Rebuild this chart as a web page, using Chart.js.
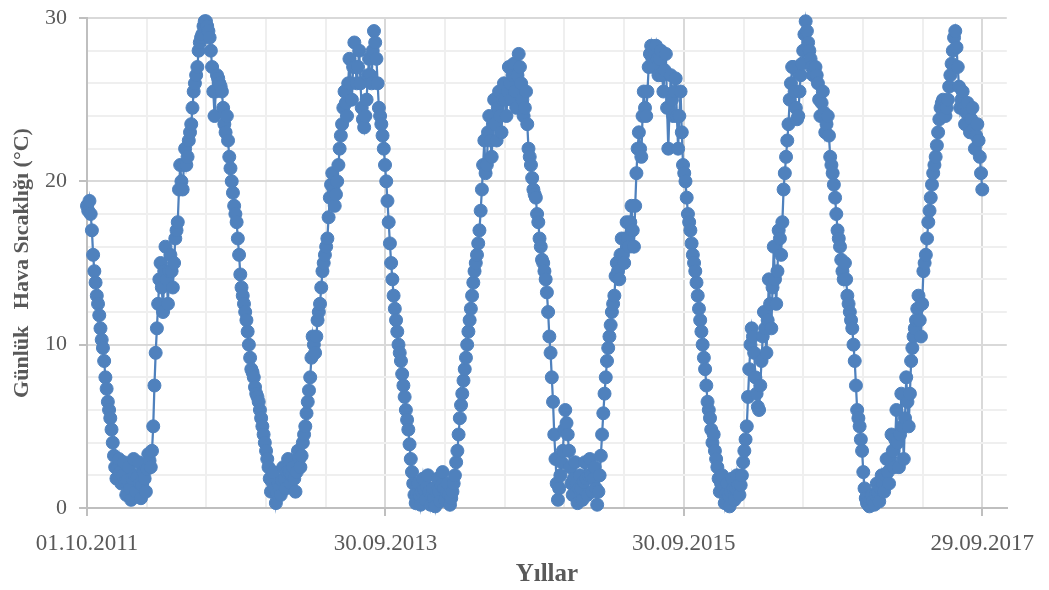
<!DOCTYPE html>
<html lang="tr">
<head>
<meta charset="utf-8">
<title>Günlük Hava Sıcaklığı</title>
<script src="https://cdn.jsdelivr.net/npm/chart.js@4.4.1/dist/chart.umd.min.js"></script>
<style>
  body { margin: 0; background: #ffffff; }
  #wrap { width: 1049px; height: 590px; position: relative; }
</style>
</head>
<body>
<div id="wrap"><canvas id="chart"></canvas></div>
<script>
"use strict"

//Readings start on 01.10.2011, one every 3rd day
const stepDays = 3;

//X axis labels and the day they belong to
const xTickLabels = ["01.10.2011", "30.09.2013", "30.09.2015", "29.09.2017"];
const xTickDays = [0, 730, 1460, 2190];

//Daily air temperature (°C), one array per season Oct - Sep
const temps2011 = [18.5, 18.2, 18.8, 18.0, 17.0, 15.5, 14.5, 13.8, 13.0, 12.5,
  11.8, 11.0, 10.3, 9.8, 9.0, 8.0, 7.3, 6.5, 6.0, 5.5,
  4.8, 4.0, 3.2, 2.5, 1.8, 2.4, 3.0, 2.2, 1.5, 2.0,
  2.8, 1.6, 0.8, 1.7, 2.5, 1.2, 0.5, 1.8, 3.0, 2.0,
  1.0, 1.9, 2.8, 1.5, 0.6, 1.4, 2.2, 1.8, 1.0, 2.4,
  3.3, 2.9, 2.5, 3.5, 5.0, 7.5, 9.5, 11.0, 12.5, 14.0,
  15.0, 13.5, 12.0, 14.5, 16.0, 14.0, 12.5, 14.5, 15.5, 14.5,
  13.5, 15.0, 16.5, 17.0, 17.5, 19.5, 21.0, 20.0, 19.5, 21.0,
  22.0, 21.0, 21.5, 22.5, 23.0, 23.5, 24.5, 25.5, 26.0, 26.5,
  27.0, 28.0, 28.5, 28.8, 29.0, 29.5, 29.8, 29.8, 29.5, 29.2,
  28.8, 28.0, 27.0, 25.5, 24.0, 25.5, 26.5, 26.3, 26.0, 25.8,
  25.5, 24.5, 23.5, 23.0, 24.0, 22.5, 21.5, 20.8, 20.0, 19.3,
  18.5, 18.0];
const temps2012 = [17.5, 16.5, 15.5, 14.3, 13.5, 13.0, 12.5, 12.0, 11.5, 10.8,
  10.0, 9.2, 8.5, 8.3, 8.0, 7.4, 7.0, 6.8, 6.5, 6.0,
  5.5, 5.0, 4.5, 4.0, 3.5, 3.0, 2.5, 1.8, 1.0, 1.6,
  2.2, 1.2, 0.3, 0.9, 1.5, 1.2, 0.8, 1.7, 2.5, 1.8,
  1.2, 2.2, 3.0, 2.2, 1.5, 2.0, 2.5, 1.8, 1.0, 2.2,
  3.5, 3.0, 2.5, 3.2, 4.0, 4.5, 5.0, 5.8, 6.5, 7.2,
  8.0, 9.2, 10.5, 10.0, 9.5, 10.5, 11.5, 12.0, 12.5, 13.5,
  14.5, 15.0, 15.5, 16.0, 16.5, 17.8, 19.0, 19.8, 20.5, 19.5,
  18.5, 19.2, 20.0, 21.0, 22.0, 22.8, 23.5, 24.5, 25.5, 24.8,
  24.0, 26.0, 27.5, 26.0, 25.0, 27.0, 28.5, 27.0, 26.0, 27.0,
  28.0, 26.0, 24.5, 23.8, 23.3, 24.0, 25.0, 26.5, 27.5, 26.5,
  26.0, 28.0, 29.2, 28.5, 27.5, 26.0, 24.5, 24.0, 23.5, 22.8,
  22.0, 21.0];
const temps2013 = [20.0, 18.8, 17.5, 16.2, 15.0, 14.0, 13.0, 12.2, 11.5, 10.8,
  10.0, 9.5, 9.0, 8.2, 7.5, 6.8, 6.0, 5.4, 4.8, 3.9,
  3.0, 2.2, 1.5, 0.8, 0.3, 0.9, 1.5, 0.8, 0.2, 1.0,
  1.8, 1.1, 0.5, 1.3, 2.0, 1.0, 0.2, 0.7, 1.2, 0.6,
  0.1, 1.0, 1.8, 1.0, 0.4, 1.4, 2.2, 1.2, 0.5, 1.0,
  1.5, 0.8, 0.2, 0.6, 1.0, 1.5, 2.0, 2.8, 3.5, 4.5,
  5.5, 6.3, 7.0, 7.8, 8.5, 9.2, 10.0, 10.8, 11.5, 12.2,
  13.0, 13.8, 14.5, 15.0, 15.5, 16.2, 17.0, 18.2, 19.5, 21.0,
  22.5, 20.5, 21.0, 23.0, 24.0, 22.5, 21.5, 23.5, 25.0, 23.5,
  22.5, 24.5, 25.5, 24.0, 23.0, 25.0, 26.0, 25.0, 24.0, 25.5,
  27.0, 26.0, 25.0, 26.5, 27.2, 25.5, 24.5, 26.5, 27.8, 27.0,
  26.0, 25.0, 24.0, 24.5, 25.5, 23.5, 22.0, 21.5, 21.0, 20.2,
  19.5, 19.2];
const temps2014 = [19.0, 18.0, 17.5, 16.5, 16.0, 15.2, 15.0, 14.5, 14.0, 13.2,
  12.0, 10.5, 9.5, 8.0, 6.5, 4.5, 3.0, 1.5, 0.5, 1.2,
  2.0, 2.8, 3.5, 4.8, 6.0, 5.2, 4.5, 3.5, 2.5, 1.5,
  0.8, 1.8, 2.8, 1.5, 0.3, 1.2, 2.0, 1.2, 0.5, 1.6,
  2.8, 1.8, 0.8, 2.0, 3.0, 2.0, 1.0, 1.8, 2.5, 1.2,
  0.2, 1.0, 2.0, 3.2, 4.5, 5.8, 7.0, 8.0, 9.0, 9.8,
  10.5, 11.2, 12.0, 12.5, 13.0, 14.2, 15.0, 14.5, 14.0, 15.5,
  16.5, 15.5, 15.0, 16.5, 17.5, 16.5, 16.0, 17.5, 18.5, 17.0,
  16.0, 18.5, 20.5, 22.0, 23.0, 22.0, 21.5, 24.0, 25.5, 24.5,
  24.0, 25.5, 27.0, 27.8, 28.3, 27.5, 27.0, 27.8, 28.3, 27.5,
  26.5, 27.5, 28.0, 26.5, 25.5, 26.8, 27.8, 24.5, 22.0, 24.5,
  26.5, 25.0, 24.0, 25.5, 26.3, 24.0, 22.0, 24.0, 25.5, 23.0,
  21.0, 20.5];
const temps2015 = [20.0, 19.0, 18.0, 17.5, 17.0, 16.2, 15.5, 15.0, 14.5, 13.8,
  13.0, 12.2, 11.5, 10.8, 10.0, 9.2, 8.5, 7.5, 6.5, 6.0,
  5.5, 4.8, 4.0, 4.5, 3.5, 3.0, 2.5, 1.8, 1.0, 1.5,
  2.0, 1.2, 0.3, 0.9, 1.5, 0.8, 0.1, 1.0, 1.8, 1.2,
  0.5, 1.2, 2.0, 1.4, 0.8, 1.4, 2.0, 2.8, 3.5, 4.2,
  5.0, 6.8, 8.5, 10.0, 11.0, 10.5, 9.5, 8.0, 7.0, 6.2,
  6.0, 7.5, 9.0, 10.5, 12.0, 11.0, 9.5, 11.5, 14.0, 12.5,
  11.0, 13.5, 16.0, 14.0, 12.5, 14.5, 17.0, 16.5, 15.5, 17.5,
  19.5, 20.5, 21.5, 22.5, 23.5, 25.0, 26.0, 27.0, 27.0, 25.5,
  24.5, 23.8, 24.0, 25.5, 26.5, 27.2, 28.0, 29.0, 29.8, 29.2,
  28.5, 28.0, 27.5, 27.0, 26.5, 26.8, 27.0, 26.5, 26.0, 25.0,
  24.0, 24.8, 25.5, 24.2, 23.0, 23.5, 24.0, 22.8, 21.5, 21.0,
  20.5, 19.8];
const temps2016 = [19.0, 18.0, 17.0, 16.5, 16.0, 15.2, 14.5, 14.0, 15.0, 14.0,
  13.0, 12.5, 12.0, 11.5, 11.0, 10.0, 9.0, 7.5, 6.0, 5.5,
  5.0, 4.2, 3.5, 2.2, 1.2, 0.6, 0.3, 0.2, 0.1, 0.5,
  0.8, 0.4, 0.2, 0.8, 1.5, 0.9, 0.4, 1.2, 2.0, 1.5,
  1.0, 2.0, 3.0, 2.2, 1.5, 3.0, 4.5, 3.5, 2.5, 4.2,
  6.0, 4.0, 2.5, 4.5, 7.0, 5.0, 3.0, 5.5, 8.0, 6.5,
  5.0, 7.0, 9.0, 9.8, 10.5, 11.0, 11.5, 12.2, 13.0, 11.5,
  10.5, 12.5, 14.5, 15.0, 15.5, 16.5, 17.5, 18.2, 19.0, 19.8,
  20.5, 21.0, 21.5, 22.2, 23.0, 23.8, 24.5, 24.8, 25.0, 24.5,
  24.0, 24.5, 25.0, 25.8, 26.5, 27.2, 28.0, 28.8, 29.2, 28.2,
  27.0, 25.8, 24.5, 25.0, 25.5, 24.5, 23.5, 24.2, 24.8, 24.0,
  23.0, 23.8, 24.5, 23.2, 22.0, 22.8, 23.5, 22.5, 21.5, 20.5,
  19.5];

const seasons = [temps2011, temps2012, temps2013, temps2014, temps2015, temps2016];

//Put the readings on a day axis
let points = [];
let day = 0;
for (let i = 0; i < seasons.length; i++) {
  for (let j = 0; j < seasons[i].length; j++) {
    points.push({x: day, y: seasons[i][j]});
    day += stepDays;
  }
}

const labelColor = "#595959";
const serif = "'Liberation Serif', 'Times New Roman', serif";

const data = {
  datasets: [
    {
      label: "Günlük Hava Sıcaklığı",
      data: points,
      borderColor: "#4f81bd",
      backgroundColor: "#4f81bd",
      borderWidth: 2.25,
      pointRadius: 6.5,
      pointBorderWidth: 1,
      pointBackgroundColor: "#4f81bd",
      pointBorderColor: "#4f81bd",
      tension: 0,
      clip: false
    }
  ]
}

const config = {
  type: "line",
  data: data,
  options: {
    responsive: true,
    maintainAspectRatio: false,
    animation: false,
    devicePixelRatio: 1,
    layout: {padding: {top: 18, right: 37, bottom: 0, left: 0}},
    plugins: {
      legend: {display: false},
      tooltip: {enabled: false}
    },
    scales: {
      x: {
        type: "linear",
        min: 0,
        max: 2250,
        afterBuildTicks: function(scale) {
          //gridlines every 146 days, labels only every 730
          let ticks = [];
          for (let d = 0; d <= 2190; d += 146) {
            ticks.push({value: d});
          }
          scale.ticks = ticks;
        },
        afterFit: function(scale) {
          scale.height = 82;
        },
        ticks: {
          autoSkip: false,
          maxRotation: 0,
          padding: 14,
          color: labelColor,
          font: {family: serif, size: 23},
          callback: function(value) {
            let index = xTickDays.indexOf(value);
            return index === -1 ? "" : xTickLabels[index];
          }
        },
        grid: {
          color: function(ctx) {
            return ctx.tick && ctx.tick.value % 730 === 0 ? "#d9d9d9" : "#efefef";
          },
          tickColor: function(ctx) {
            return ctx.tick && ctx.tick.value % 730 === 0 ? "#bfbfbf" : "rgba(0,0,0,0)";
          },
          lineWidth: 2,
          tickLength: 8,
          tickWidth: 2
        },
        border: {display: true, color: "#bfbfbf", width: 2},
        title: {
          display: true,
          text: "Yıllar",
          color: labelColor,
          font: {family: serif, size: 25, weight: "bold"},
          padding: {top: 0, bottom: 0}
        }
      },
      y: {
        min: 0,
        max: 30,
        afterFit: function(scale) {
          scale.width = 87;
          //keep the top of the plot at the same height as the picture
          scale.paddingTop = 12;
        },
        ticks: {
          stepSize: 2,
          padding: 12,
          color: labelColor,
          font: {family: serif, size: 22},
          callback: function(value) {
            return value % 10 === 0 ? value : "";
          }
        },
        grid: {
          color: function(ctx) {
            return ctx.tick && ctx.tick.value % 10 === 0 ? "#d9d9d9" : "#efefef";
          },
          tickColor: function(ctx) {
            return ctx.tick && ctx.tick.value % 10 === 0 ? "#bfbfbf" : "rgba(0,0,0,0)";
          },
          lineWidth: 2,
          tickLength: 8,
          tickWidth: 2
        },
        border: {display: true, color: "#bfbfbf", width: 2},
        title: {
          display: true,
          text: "Günlük   Hava Sıcaklığı (°C)",
          color: labelColor,
          font: {family: serif, size: 22, weight: "bold"},
          padding: {top: 9, bottom: 0}
        }
      }
    }
  }
}

const tempChart = new Chart(document.getElementById("chart"), config);
</script>
</body>
</html>
